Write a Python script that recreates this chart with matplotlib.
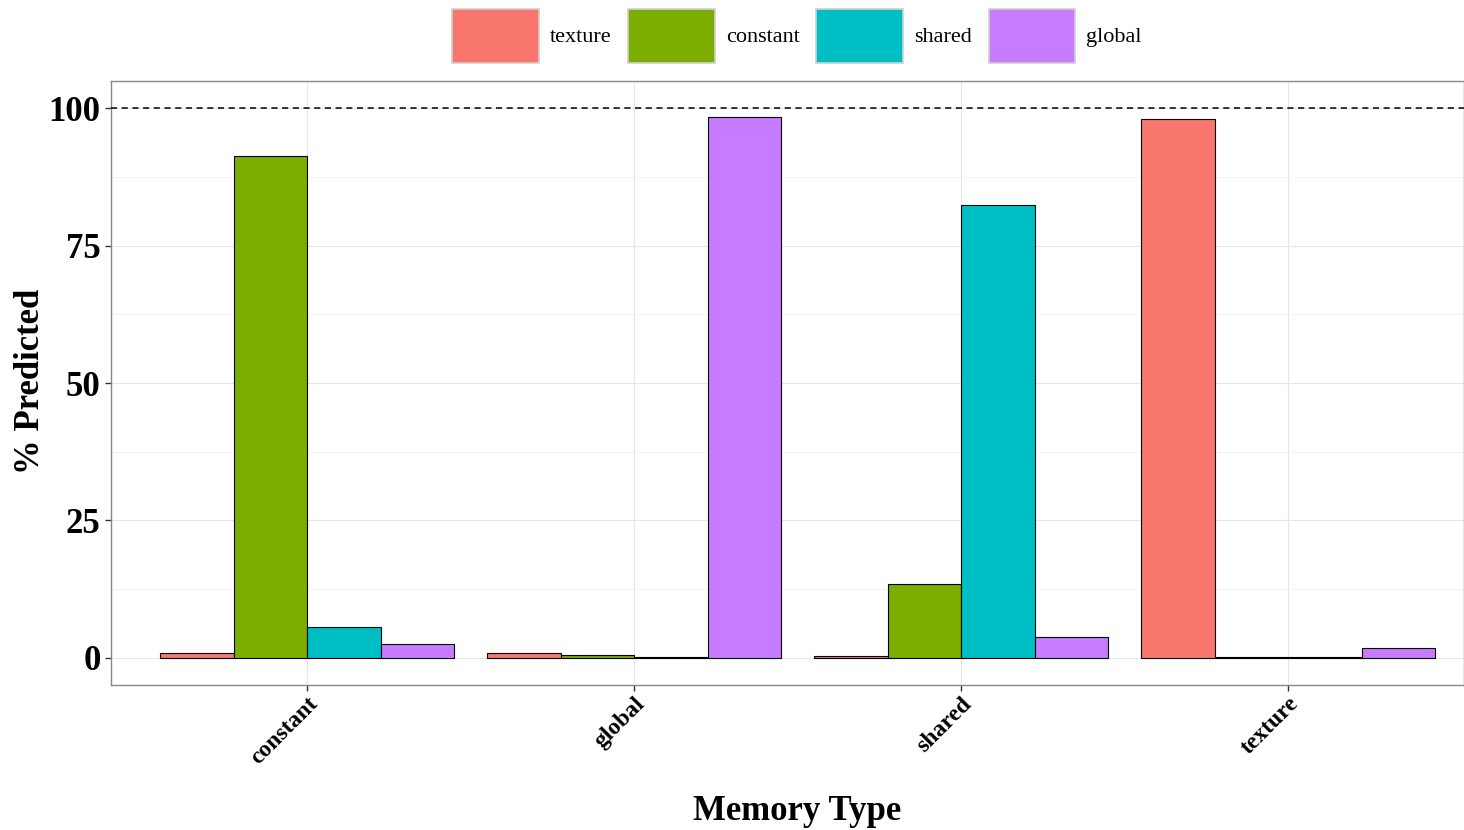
import numpy as np
import matplotlib.pyplot as plt
from matplotlib.patches import Patch

plt.rcParams['font.family'] = ['Liberation Serif', 'DejaVu Serif']

categories = ['constant', 'global', 'shared', 'texture']
series = ['texture', 'constant', 'shared', 'global']
colors = ['#F8766D', '#7CAE00', '#00BFC4', '#C77CFF']
values = {
    'texture':  [0.9, 0.9, 0.3, 98.1],
    'constant': [91.3, 0.5, 13.4, 0.05],
    'shared':   [5.5, 0.1, 82.5, 0.05],
    'global':   [2.4, 98.4, 3.8, 1.8],
}

W, H = 1464, 830
fig = plt.figure(figsize=(W / 100, H / 100), dpi=100)
ax = fig.add_axes([111 / W, 1 - 685 / H, 1 - 111 / W, (685 - 81) / H])

x = np.arange(1, len(categories) + 1)
w = 0.9 / len(series)
for i, (s, c) in enumerate(zip(series, colors)):
    ax.bar(x + (i - 1.5) * w, values[s], width=w, color=c, edgecolor='black',
           linewidth=0.8, zorder=3)

ax.axhline(100, color='black', linestyle=(0, (4, 3)), linewidth=1.1, zorder=4)

ax.set_xlim(0.4, 4.538)
ax.set_ylim(-5, 105)
ax.set_xticks(x)
ax.set_xticklabels(categories, rotation=45, ha='right', rotation_mode='anchor',
                   fontsize=17, fontweight='bold')
ax.set_yticks([0, 25, 50, 75, 100])
ax.set_yticklabels(['0', '25', '50', '75', '100'], fontsize=25, fontweight='bold')
ax.set_yticks([12.5, 37.5, 62.5, 87.5], minor=True)
ax.grid(True, which='major', color='#E6E6E6', linewidth=0.8, zorder=0)
ax.grid(True, which='minor', axis='y', color='#F3F3F3', linewidth=0.6, zorder=0)
ax.tick_params(axis='both', which='major', length=4, width=1, color='#333333')
ax.tick_params(axis='x', which='major', pad=2)
ax.tick_params(axis='y', which='minor', length=0)
for sp in ax.spines.values():
    sp.set_color('#888888')
    sp.set_linewidth(1)

fig.text(797 / W, 1 - 811 / H, 'Memory Type', fontsize=25, fontweight='bold',
         ha='center', va='center')
fig.text(31 / W, 1 - 381 / H, '% Predicted', fontsize=25, fontweight='bold',
         ha='center', va='center', rotation=90)

handles = [Patch(facecolor=c, edgecolor='#D0D0D0', linewidth=1.2) for c in colors]
fig.legend(handles, series, loc='center', bbox_to_anchor=(797 / W, 1 - 36 / H),
           ncol=4, frameon=False, fontsize=16, handlelength=3.9, handleheight=3.3,
           handletextpad=0.5, columnspacing=0.75, borderpad=0)

fig.savefig('out.png', dpi=100)
